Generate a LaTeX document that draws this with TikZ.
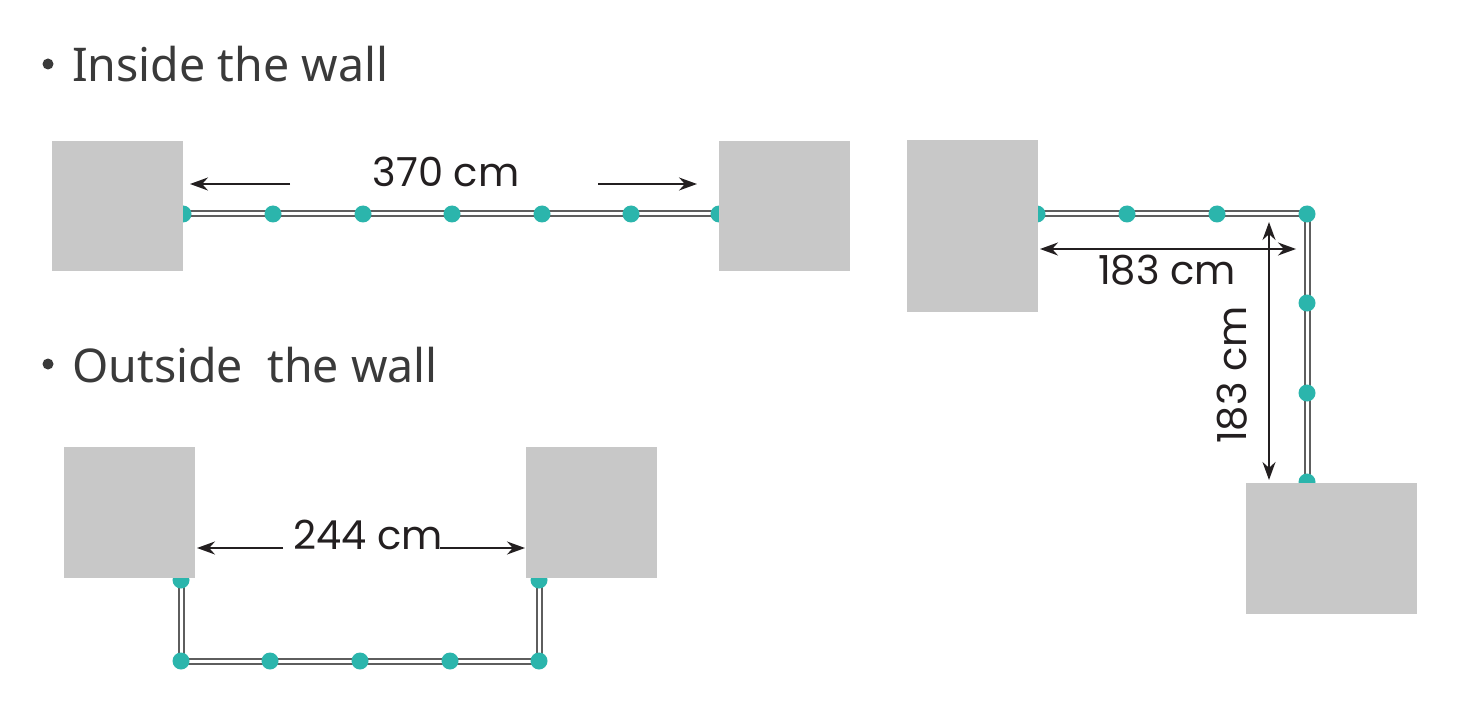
\documentclass[tikz,border=0pt]{standalone}
\usepackage{fontspec}
\setmainfont{Noto Sans}
\newfontfamily\labelfont{Poppins}
\usetikzlibrary{arrows.meta}
\definecolor{boxgray}{HTML}{C8C8C8}
\definecolor{dotteal}{HTML}{2BB5AC}
\definecolor{headtext}{HTML}{3A3A3A}
\definecolor{labtext}{HTML}{231F20}
\definecolor{railgray}{HTML}{5E5E5E}
\pgfdeclarelayer{bg}
\pgfdeclarelayer{fg}
\pgfsetlayers{bg,main,fg}
\tikzset{
  wallbox/.style={fill=boxgray, draw=none, inner sep=0pt},
  dot/.style={circle, fill=dotteal, draw=none, minimum size=17pt, inner sep=0pt},
  rail/.style={draw=railgray, line width=2pt, double=white, double distance=3pt},
  dimarrow/.style={draw=labtext, line width=1.7pt, -{Stealth[length=18pt,width=13pt]}},
  dimboth/.style={draw=labtext, line width=1.7pt, {Stealth[length=18pt,width=13pt]}-{Stealth[length=18pt,width=13pt]}},
  heading/.style={font=\fontsize{46.5}{54}\selectfont, text=headtext, anchor=base west, inner sep=0pt},
  dimlabel/.style={font=\labelfont\fontsize{40}{48}\selectfont, text=labtext, inner sep=0pt},
  bulletdot/.style={circle, fill=headtext, draw=none, minimum size=11pt, inner sep=0pt}
}
\begin{document}
\begin{tikzpicture}[x=1pt,y=-1pt]
\useasboundingbox (0,0) rectangle (1458,719);
\begin{pgfonlayer}{bg}
\fill[white] (0,0) rectangle (1458,719);
\end{pgfonlayer}

% headings
\node[bulletdot] (b1) at (48,64) {};
\node[heading] (h1) at (72,82) {Inside the wall};
\node[bulletdot] (b2) at (48,364) {};
\node[heading] (h2) at (72,382) {Outside\ \ the wall};

% ---------- Inside the wall ----------
\node[dot] (a1) at (183,214) {};
\node[dot] (a2) at (273,214) {};
\node[dot] (a3) at (363,214) {};
\node[dot] (a4) at (452,214) {};
\node[dot] (a5) at (542,214) {};
\node[dot] (a6) at (631,214) {};
\node[dot] (a7) at (719,214) {};
\begin{pgfonlayer}{bg}
\draw[rail] (a1.center) -- (a7.center);
\end{pgfonlayer}
\begin{pgfonlayer}{fg}
\node[wallbox, minimum width=131pt, minimum height=130pt] (w1) at (117.5,206) {};
\node[wallbox, minimum width=131pt, minimum height=130pt] (w2) at (784.5,206) {};
\end{pgfonlayer}
\node[dimlabel] (l370) at (446,172) {370 cm};
\coordinate (p1s) at (290,184);
\coordinate (p1e) at (190,184);
\coordinate (p2s) at (598,184);
\coordinate (p2e) at (697,184);
\draw[dimarrow] (p1s) -- (p1e);
\draw[dimarrow] (p2s) -- (p2e);

% ---------- Corner ----------
\node[dot] (c1) at (1037,214) {};
\node[dot] (c2) at (1127,214) {};
\node[dot] (c3) at (1217,214) {};
\node[dot] (c4) at (1307,214) {};
\node[dot] (c5) at (1307,303) {};
\node[dot] (c6) at (1307,393) {};
\node[dot] (c7) at (1307,482) {};
\begin{pgfonlayer}{bg}
\draw[rail] (c1.center) -- (c4.center) -- (c7.center);
\end{pgfonlayer}
\begin{pgfonlayer}{fg}
\node[wallbox, minimum width=131pt, minimum height=171pt] (w3) at (972,226) {};
\node[wallbox, minimum width=171pt, minimum height=131pt] (w4) at (1331.5,548) {};
\end{pgfonlayer}
\coordinate (hs) at (1040,249);
\coordinate (he) at (1296,249);
\draw[dimboth] (hs) -- (he);
\node[dimlabel] (l183h) at (1167,270) {183 cm};
\coordinate (vs) at (1269,222);
\coordinate (ve) at (1269,480);
\draw[dimboth] (vs) -- (ve);
\node[dimlabel, rotate=90] (l183v) at (1232,375) {183 cm};

% ---------- Outside the wall ----------
\node[dot] (o1) at (181,580) {};
\node[dot] (o2) at (181,661) {};
\node[dot] (o3) at (270,661) {};
\node[dot] (o4) at (360,661) {};
\node[dot] (o5) at (450,661) {};
\node[dot] (o6) at (539,661) {};
\node[dot] (o7) at (539,580) {};
\begin{pgfonlayer}{bg}
\draw[rail] (o1.center) -- (o2.center) -- (o6.center) -- (o7.center);
\end{pgfonlayer}
\begin{pgfonlayer}{fg}
\node[wallbox, minimum width=131pt, minimum height=131pt] (w5) at (129,512) {};
\node[wallbox, minimum width=131pt, minimum height=131pt] (w6) at (591,512) {};
\end{pgfonlayer}
\node[dimlabel] (l244) at (368,535) {244 cm};
\coordinate (q1s) at (283,548);
\coordinate (q1e) at (197,548);
\coordinate (q2s) at (440,548);
\coordinate (q2e) at (525,548);
\draw[dimarrow] (q1s) -- (q1e);
\draw[dimarrow] (q2s) -- (q2e);
\end{tikzpicture}
\end{document}
